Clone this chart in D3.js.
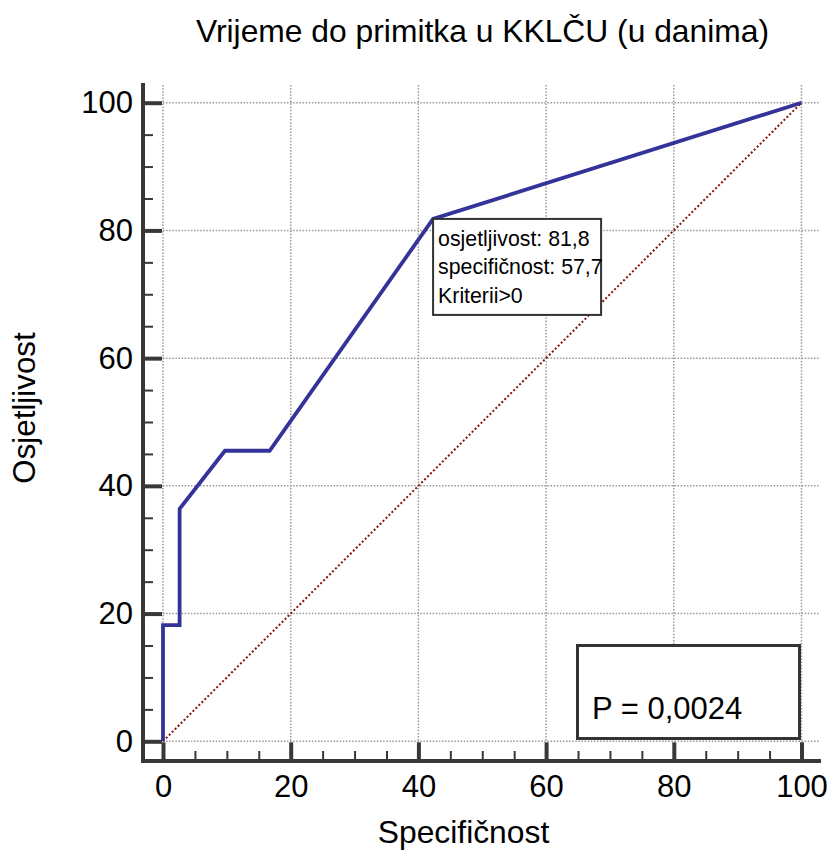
<!DOCTYPE html>
<html>
<head>
<meta charset="utf-8">
<script src="https://cdn.jsdelivr.net/npm/d3@7"></script>
<style>
  html, body { margin: 0; padding: 0; background: #fff; }
  svg { display: block; font-family: "Liberation Sans", Arial, sans-serif; }
</style>
</head>
<body>
<svg id="chart" width="832" height="850"></svg>
<script>
// ---- data ----
const title = "Vrijeme do primitka u KKLČU (u danima)";
const xTitle = "Specifičnost";
const yTitle = "Osjetljivost";
const rocX = [0, 0, 2.6, 2.6, 9.7, 16.7, 42.3, 100];      // 100 - specificity
const rocY = [0, 18.2, 18.2, 36.4, 45.5, 45.5, 81.8, 100]; // sensitivity
const majorTicks = [0, 20, 40, 60, 80, 100];
const minorTicks = [5, 10, 15, 25, 30, 35, 45, 50, 55, 65, 70, 75, 85, 90, 95];
const annotPoint = [42.3, 81.8];
const annotLines = ["osjetljivost: 81,8", "specifičnost: 57,7", "Kriterii>0"];
const pText = "P = 0,0024";

// ---- layout ----
const svg = d3.select("#chart");
const x = d3.scaleLinear().domain([0, 100]).range([163, 801.5]);
const y = d3.scaleLinear().domain([0, 100]).range([741.3, 102.7]);
const axisColor = "#383838";
const leftAxisX = 143, bottomAxisY = 761;

// grid
const grid = svg.append("g").attr("stroke", "#999").attr("stroke-width", 1.5)
  .attr("stroke-dasharray", "1.5,1.6");
grid.selectAll(".gv").data(majorTicks).join("line")
  .attr("x1", d => x(d)).attr("x2", d => x(d)).attr("y1", 85).attr("y2", y(0));
grid.selectAll(".gh").data(majorTicks).join("line")
  .attr("y1", d => y(d)).attr("y2", d => y(d)).attr("x1", x(0)).attr("x2", 820);

// diagonal reference
svg.append("line")
  .attr("x1", x(0)).attr("y1", y(0)).attr("x2", x(100)).attr("y2", y(100))
  .attr("stroke", "#8b1010").attr("stroke-width", 2).attr("stroke-dasharray", "2,2.2");

// ROC curve
const pts = rocX.map((d, i) => [d, rocY[i]]);
svg.append("path").datum(pts)
  .attr("d", d3.line().x(d => x(d[0])).y(d => y(d[1])))
  .attr("fill", "none").attr("stroke", "#333399").attr("stroke-width", 3.8)
  .attr("stroke-linejoin", "miter");

// axes
const fontSize = 31;
const gL = svg.append("g").attr("transform", `translate(${leftAxisX},0)`);
gL.call(d3.axisLeft(y).tickValues(majorTicks).tickSize(-(x(0) - leftAxisX - 1)).tickPadding(10).tickFormat(d3.format("d")));
const gLm = svg.append("g").attr("transform", `translate(${leftAxisX},0)`);
gLm.call(d3.axisLeft(y).tickValues(minorTicks).tickSize(-10).tickFormat(""));

const gB = svg.append("g").attr("transform", `translate(0,${bottomAxisY})`);
gB.call(d3.axisBottom(x).tickValues(majorTicks).tickSize(-(bottomAxisY - y(0) - 1)).tickPadding(14).tickFormat(d3.format("d")));
const gBm = svg.append("g").attr("transform", `translate(0,${bottomAxisY})`);
gBm.call(d3.axisBottom(x).tickValues(minorTicks).tickSize(-10).tickFormat(""));

[gL, gB].forEach(g => {
  g.selectAll(".tick line").attr("stroke", axisColor).attr("stroke-width", 4);
  g.selectAll(".tick text").attr("font-size", fontSize).attr("fill", "#000")
    .attr("font-family", "Liberation Sans, Arial, sans-serif");
});
[gLm, gBm].forEach(g => {
  g.selectAll(".tick line").attr("stroke", axisColor).attr("stroke-width", 2);
});
svg.selectAll(".domain").remove();

// axis lines
svg.append("line").attr("x1", leftAxisX).attr("x2", leftAxisX).attr("y1", 83).attr("y2", bottomAxisY + 2)
  .attr("stroke", axisColor).attr("stroke-width", 4);
svg.append("line").attr("x1", leftAxisX - 2).attr("x2", 821).attr("y1", bottomAxisY).attr("y2", bottomAxisY)
  .attr("stroke", axisColor).attr("stroke-width", 4);

// titles
svg.append("text").attr("x", 482.5).attr("y", 42).attr("text-anchor", "middle")
  .attr("font-size", 31.8).attr("fill", "#000").text(title);
svg.append("text").attr("x", 463.5).attr("y", 843).attr("text-anchor", "middle")
  .attr("font-size", 31.8).attr("fill", "#000").text(xTitle);
svg.append("text").attr("transform", "translate(35,408) rotate(-90)").attr("text-anchor", "middle")
  .attr("font-size", 31.3).attr("fill", "#000").text(yTitle);

// annotation box
const ax = x(annotPoint[0]), ay = y(annotPoint[1]);
svg.append("rect").attr("x", ax).attr("y", ay).attr("width", 168).attr("height", 96)
  .attr("fill", "#fff").attr("stroke", "#333").attr("stroke-width", 2);
svg.append("g").selectAll("text").data(annotLines).join("text")
  .attr("x", ax + 5).attr("y", (d, i) => ay + 27 + i * 28.3)
  .attr("font-size", 21.3).attr("fill", "#000").text(d => d);

// P-value box
svg.append("rect").attr("x", 577.5).attr("y", 645.5).attr("width", 222).attr("height", 93)
  .attr("fill", "#fff").attr("stroke", "#333").attr("stroke-width", 3);
svg.append("text").attr("x", 592).attr("y", 719).attr("font-size", fontSize).attr("fill", "#000").text(pText);
</script>
</body>
</html>
